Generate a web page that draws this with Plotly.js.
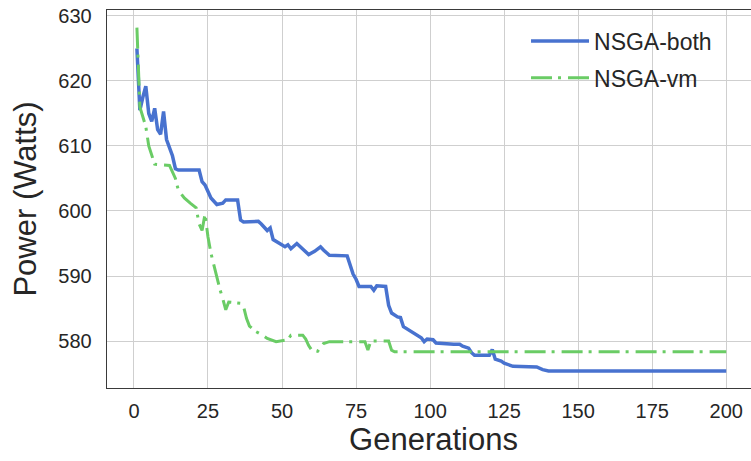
<!DOCTYPE html>
<html>
<head>
<meta charset="utf-8">
<script src="https://cdn.plot.ly/plotly-3.0.1.min.js"></script>
<style>
html,body{margin:0;padding:0;overflow:hidden;background:#fff;}
#chart{width:760px;height:461px;}
</style>
</head>
<body>
<div id="chart"></div>
<script>
// NSGA-both (blue, solid)
const bothGen = [1,2,3,4,5,6,7,8,9,10,11,12,13,14,15,22,23,24,25,26,28,30,31,35,36,37,42,43,45,46,47,49,51,52,53,55,57,59,61,63,64,66,72,73,74,75,76,80,81,82,85,86,87,89,90,91,93,95,97,98,99,101,102,108,110,111,113,114,115,120,121,122,124,125,128,136,138,140,200];
const bothPower = [625.0,615.5,617.5,619.2,615.0,613.8,615.8,612.5,611.8,615.3,611.0,609.8,608.5,606.5,606.3,606.3,604.5,604.0,603.0,602.0,601.0,601.2,601.7,601.7,598.6,598.3,598.4,598.0,597.0,597.4,595.6,595.0,594.5,594.8,594.2,595.0,594.2,593.3,593.8,594.5,594.0,593.2,593.1,591.5,590.3,589.5,588.4,588.4,587.8,588.5,588.4,585.5,584.3,583.7,583.6,582.2,581.6,581.1,580.5,579.9,580.3,580.2,579.7,579.5,579.5,579.2,578.9,578.2,577.8,577.8,578.7,577.2,576.9,576.6,576.1,576.0,575.6,575.4,575.4];

// NSGA-vm (green, dash-dot)
const vmGen = [1,2,3,4,5,6,7,12,13,14,15,17,19,21,22,23,24,25,26,27,28,29,30,31,32,36,37,38,39,41,43,45,48,51,52,53,57,58,59,60,62,63,64,66,78,79,80,86,87,88,200];
const vmPower = [628.2,616.0,614.5,613.0,610.0,608.5,607.2,607.0,606.0,605.0,603.2,602.0,601.2,600.5,598.0,597.0,599.5,596.0,593.5,591.5,589.5,588.0,586.5,584.8,586.0,585.8,585.3,583.5,582.3,581.5,581.0,580.4,579.9,580.1,580.2,580.9,580.9,580.3,579.3,578.6,578.4,579.0,579.6,579.9,579.9,578.6,580.0,580.0,578.6,578.35,578.35];

const seriesNames = ["NSGA-both", "NSGA-vm"];
const xTicks = [0,25,50,75,100,125,150,175,200];
const yTicks = [580,590,600,610,620,630];

const textColor = "#262626";
const fontFamily = "Liberation Sans, Arial, sans-serif";

const traces = [
  {x: bothGen, y: bothPower, name: seriesNames[0], type: "scatter", mode: "lines",
   line: {color: "#4872CF", width: 3.5}, legendgroup: "a"},
  {x: vmGen, y: vmPower, name: seriesNames[1], type: "scatter", mode: "lines",
   line: {color: "#6ACC65", width: 3, dash: "21px,6px,3px,7px"}, legendgroup: "b"}
];

const layout = {
  width: 760, height: 461,
  margin: {l: 107, r: 0, t: 10, b: 73},
  paper_bgcolor: "#fff", plot_bgcolor: "#fff",
  font: {family: fontFamily, color: textColor},
  showlegend: true,
  legend: {x: 0.6417, y: 0.975, xanchor: "left", yanchor: "top",
           font: {size: 23, color: textColor}, bgcolor: "rgba(0,0,0,0)",
           traceorder: "grouped", tracegroupgap: 4, itemwidth: 58},
  xaxis: {
    range: [-9.1, 211.4], tickvals: xTicks, ticktext: xTicks.map(String),
    showgrid: true, gridcolor: "#cfcfcf", gridwidth: 1, zeroline: false,
    showline: true, linecolor: "#3a3a3a", linewidth: 1.3, mirror: true,
    ticks: "", ticklabelstandoff: 5,
    tickfont: {size: 20, color: textColor},
    title: {text: "Generations", font: {size: 31, color: textColor}, standoff: 7}
  },
  yaxis: {
    range: [572.77, 630.92], tickvals: yTicks, ticktext: yTicks.map(String),
    showgrid: true, gridcolor: "#cfcfcf", gridwidth: 1, zeroline: false,
    showline: true, linecolor: "#3a3a3a", linewidth: 1.3, mirror: false,
    ticks: "", ticklabelstandoff: 10,
    tickfont: {size: 20, color: textColor},
    title: {text: "Power (Watts)", font: {size: 31, color: textColor}, standoff: 12}
  }
};

Plotly.newPlot("chart", traces, layout, {staticPlot: true, displayModeBar: false});
</script>
</body>
</html>
